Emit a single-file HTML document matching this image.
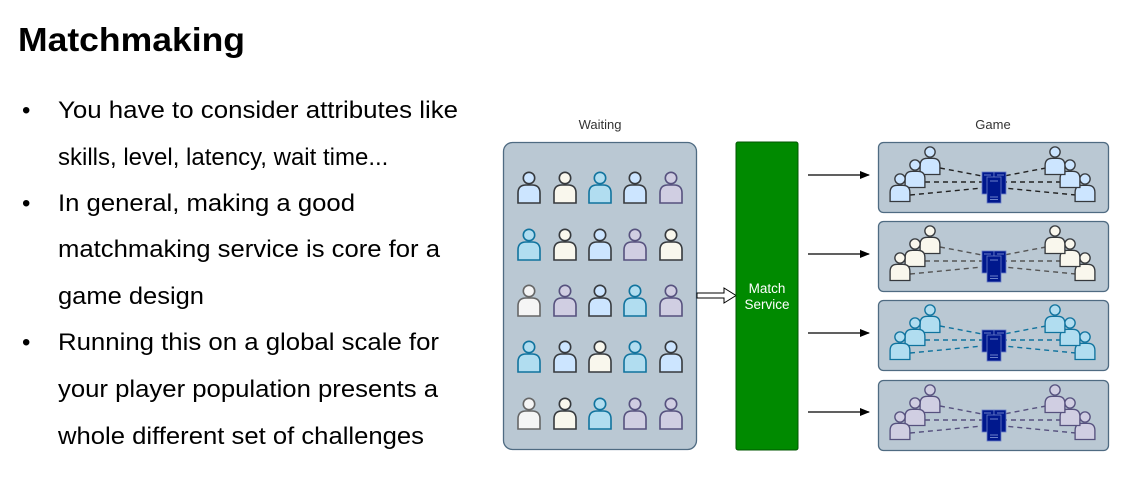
<!DOCTYPE html>
<html><head><meta charset="utf-8"><style>
html,body{margin:0;padding:0;background:#fff;}
svg{display:block;}
</style></head><body>
<svg width="1142" height="494" viewBox="0 0 1142 494" xmlns="http://www.w3.org/2000/svg" font-family="Liberation Sans, Arial, sans-serif">
<defs>
<g id="p">
<path d="M-11,25 V15 Q-11,7 -3,7 H3 Q11,7 11,15 V25 Z"/>
<circle cx="0" cy="0" r="5.7"/>
</g>
<g id="srv">
<rect x="-12" y="-8" width="12" height="22" fill="#00188d" stroke="#6a7fc9" stroke-width="0.8"/>
<rect x="0" y="-8" width="12" height="22" fill="#00188d" stroke="#6a7fc9" stroke-width="0.8"/>
<rect x="-7" y="-3" width="14" height="26" fill="#00188d" stroke="#6a7fc9" stroke-width="0.8"/>
<path d="M-4,1 H4 M-4,17 H4 M-4,19.5 H4 M-10,-5 H-3 M3,-5 H10" stroke="#8fa3e0" stroke-width="0.8"/>
</g>
<marker id="ah" markerWidth="10" markerHeight="8" refX="9" refY="4" orient="auto" markerUnits="userSpaceOnUse">
<path d="M0,0 L10,4 L0,8 Z" fill="#000"/>
</marker>
</defs>

<text x="18" y="51" font-size="33" font-weight="bold" fill="#000" textLength="227" lengthAdjust="spacingAndGlyphs">Matchmaking</text>

<g font-size="24" fill="#000">
<text x="22" y="118">•</text>
<text x="58" y="118" textLength="400" lengthAdjust="spacingAndGlyphs">You have to consider attributes like</text>
<text x="58" y="165">skills, level, latency, wait time...</text>
<text x="22" y="211">•</text>
<text x="58" y="211" textLength="297" lengthAdjust="spacingAndGlyphs">In general, making a good</text>
<text x="58" y="257" textLength="382" lengthAdjust="spacingAndGlyphs">matchmaking service is core for a</text>
<text x="58" y="304" textLength="146" lengthAdjust="spacingAndGlyphs">game design</text>
<text x="22" y="350">•</text>
<text x="58" y="350" textLength="381" lengthAdjust="spacingAndGlyphs">Running this on a global scale for</text>
<text x="58" y="397" textLength="380" lengthAdjust="spacingAndGlyphs">your player population presents a</text>
<text x="58" y="444" textLength="366" lengthAdjust="spacingAndGlyphs">whole different set of challenges</text>
</g>

<text x="600" y="129" font-size="13" text-anchor="middle" fill="#333">Waiting</text>
<text x="993" y="129" font-size="13" text-anchor="middle" fill="#333">Game</text>

<rect x="503.5" y="142.5" width="193" height="307" rx="9" fill="#bac8d3" stroke="#4f6b82" stroke-width="1.3"/>

<g stroke-width="1.6">
<use href="#p" x="529" y="178" fill="#cce5ff" stroke="#36393d"/>
<use href="#p" x="565" y="178" fill="#f9f7ed" stroke="#36393d"/>
<use href="#p" x="600" y="178" fill="#b1ddf0" stroke="#10739e"/>
<use href="#p" x="635" y="178" fill="#cce5ff" stroke="#36393d"/>
<use href="#p" x="671" y="178" fill="#d0cee2" stroke="#56517e"/>
<use href="#p" x="529" y="235" fill="#b1ddf0" stroke="#10739e"/>
<use href="#p" x="565" y="235" fill="#f9f7ed" stroke="#36393d"/>
<use href="#p" x="600" y="235" fill="#cce5ff" stroke="#36393d"/>
<use href="#p" x="635" y="235" fill="#d0cee2" stroke="#56517e"/>
<use href="#p" x="671" y="235" fill="#f9f7ed" stroke="#36393d"/>
<use href="#p" x="529" y="291" fill="#f5f5f5" stroke="#666"/>
<use href="#p" x="565" y="291" fill="#d0cee2" stroke="#56517e"/>
<use href="#p" x="600" y="291" fill="#cce5ff" stroke="#36393d"/>
<use href="#p" x="635" y="291" fill="#b1ddf0" stroke="#10739e"/>
<use href="#p" x="671" y="291" fill="#d0cee2" stroke="#56517e"/>
<use href="#p" x="529" y="347" fill="#b1ddf0" stroke="#10739e"/>
<use href="#p" x="565" y="347" fill="#cce5ff" stroke="#36393d"/>
<use href="#p" x="600" y="347" fill="#f9f7ed" stroke="#36393d"/>
<use href="#p" x="635" y="347" fill="#b1ddf0" stroke="#10739e"/>
<use href="#p" x="671" y="347" fill="#cce5ff" stroke="#36393d"/>
<use href="#p" x="529" y="404" fill="#f5f5f5" stroke="#666"/>
<use href="#p" x="565" y="404" fill="#f9f7ed" stroke="#36393d"/>
<use href="#p" x="600" y="404" fill="#b1ddf0" stroke="#10739e"/>
<use href="#p" x="635" y="404" fill="#d0cee2" stroke="#56517e"/>
<use href="#p" x="671" y="404" fill="#d0cee2" stroke="#56517e"/>
</g>

<path d="M697,293 H724 V288 L736,295.5 L724,303 V298 H697 Z" fill="#fff" stroke="#000" stroke-width="1"/>

<rect x="736" y="142" width="62" height="308" rx="2" fill="#008a00" stroke="#005700" stroke-width="1"/>
<text x="767" y="293" font-size="13.5" fill="#fff" text-anchor="middle">Match</text>
<text x="767" y="309" font-size="13.5" fill="#fff" text-anchor="middle">Service</text>

<g stroke="#000" stroke-width="1.3" marker-end="url(#ah)">
<line x1="808" y1="175" x2="869" y2="175"/>
<line x1="808" y1="254" x2="869" y2="254"/>
<line x1="808" y1="333" x2="869" y2="333"/>
<line x1="808" y1="412" x2="869" y2="412"/>
</g>

<g>
<rect x="878.5" y="142.5" width="230" height="70" rx="5" fill="#bac8d3" stroke="#4f6b82" stroke-width="1.3"/>
<g stroke="#222" stroke-width="1.4" stroke-dasharray="5,4" fill="none">
<path d="M940,168 L982,176 M925,182 L982,182 M910,195 L982,188 M1046,168 L1004,176 M1061,182 L1004,182 M1076,195 L1004,188"/>
</g>
<g stroke-width="1.5" fill="#cce5ff" stroke="#36393d">
<use href="#p" x="930" y="152" transform="translate(930 152) scale(0.9) translate(-930 -152)"/>
<use href="#p" x="915" y="165" transform="translate(915 165) scale(0.9) translate(-915 -165)"/>
<use href="#p" x="900" y="179" transform="translate(900 179) scale(0.9) translate(-900 -179)"/>
<use href="#p" x="1085" y="179" transform="translate(1085 179) scale(0.9) translate(-1085 -179)"/>
<use href="#p" x="1070" y="165" transform="translate(1070 165) scale(0.9) translate(-1070 -165)"/>
<use href="#p" x="1055" y="152" transform="translate(1055 152) scale(0.9) translate(-1055 -152)"/>
</g>
<use href="#srv" x="994" y="180"/>
</g>

<g transform="translate(0 79)">
<rect x="878.5" y="142.5" width="230" height="70" rx="5" fill="#bac8d3" stroke="#4f6b82" stroke-width="1.3"/>
<g stroke="#555" stroke-width="1.4" stroke-dasharray="5,4" fill="none">
<path d="M940,168 L982,176 M925,182 L982,182 M910,195 L982,188 M1046,168 L1004,176 M1061,182 L1004,182 M1076,195 L1004,188"/>
</g>
<g stroke-width="1.5" fill="#f9f7ed" stroke="#36393d">
<use href="#p" x="930" y="152" transform="translate(930 152) scale(0.9) translate(-930 -152)"/>
<use href="#p" x="915" y="165" transform="translate(915 165) scale(0.9) translate(-915 -165)"/>
<use href="#p" x="900" y="179" transform="translate(900 179) scale(0.9) translate(-900 -179)"/>
<use href="#p" x="1085" y="179" transform="translate(1085 179) scale(0.9) translate(-1085 -179)"/>
<use href="#p" x="1070" y="165" transform="translate(1070 165) scale(0.9) translate(-1070 -165)"/>
<use href="#p" x="1055" y="152" transform="translate(1055 152) scale(0.9) translate(-1055 -152)"/>
</g>
<use href="#srv" x="994" y="180"/>
</g>

<g transform="translate(0 158)">
<rect x="878.5" y="142.5" width="230" height="70" rx="5" fill="#bac8d3" stroke="#4f6b82" stroke-width="1.3"/>
<g stroke="#10739e" stroke-width="1.4" stroke-dasharray="5,4" fill="none">
<path d="M940,168 L982,176 M925,182 L982,182 M910,195 L982,188 M1046,168 L1004,176 M1061,182 L1004,182 M1076,195 L1004,188"/>
</g>
<g stroke-width="1.5" fill="#b1ddf0" stroke="#10739e">
<use href="#p" x="930" y="152" transform="translate(930 152) scale(0.9) translate(-930 -152)"/>
<use href="#p" x="915" y="165" transform="translate(915 165) scale(0.9) translate(-915 -165)"/>
<use href="#p" x="900" y="179" transform="translate(900 179) scale(0.9) translate(-900 -179)"/>
<use href="#p" x="1085" y="179" transform="translate(1085 179) scale(0.9) translate(-1085 -179)"/>
<use href="#p" x="1070" y="165" transform="translate(1070 165) scale(0.9) translate(-1070 -165)"/>
<use href="#p" x="1055" y="152" transform="translate(1055 152) scale(0.9) translate(-1055 -152)"/>
</g>
<use href="#srv" x="994" y="180"/>
</g>

<g transform="translate(0 238)">
<rect x="878.5" y="142.5" width="230" height="70" rx="5" fill="#bac8d3" stroke="#4f6b82" stroke-width="1.3"/>
<g stroke="#56517e" stroke-width="1.4" stroke-dasharray="5,4" fill="none">
<path d="M940,168 L982,176 M925,182 L982,182 M910,195 L982,188 M1046,168 L1004,176 M1061,182 L1004,182 M1076,195 L1004,188"/>
</g>
<g stroke-width="1.5" fill="#d0cee2" stroke="#56517e">
<use href="#p" x="930" y="152" transform="translate(930 152) scale(0.9) translate(-930 -152)"/>
<use href="#p" x="915" y="165" transform="translate(915 165) scale(0.9) translate(-915 -165)"/>
<use href="#p" x="900" y="179" transform="translate(900 179) scale(0.9) translate(-900 -179)"/>
<use href="#p" x="1085" y="179" transform="translate(1085 179) scale(0.9) translate(-1085 -179)"/>
<use href="#p" x="1070" y="165" transform="translate(1070 165) scale(0.9) translate(-1070 -165)"/>
<use href="#p" x="1055" y="152" transform="translate(1055 152) scale(0.9) translate(-1055 -152)"/>
</g>
<use href="#srv" x="994" y="180"/>
</g>
</svg>
</body></html>
